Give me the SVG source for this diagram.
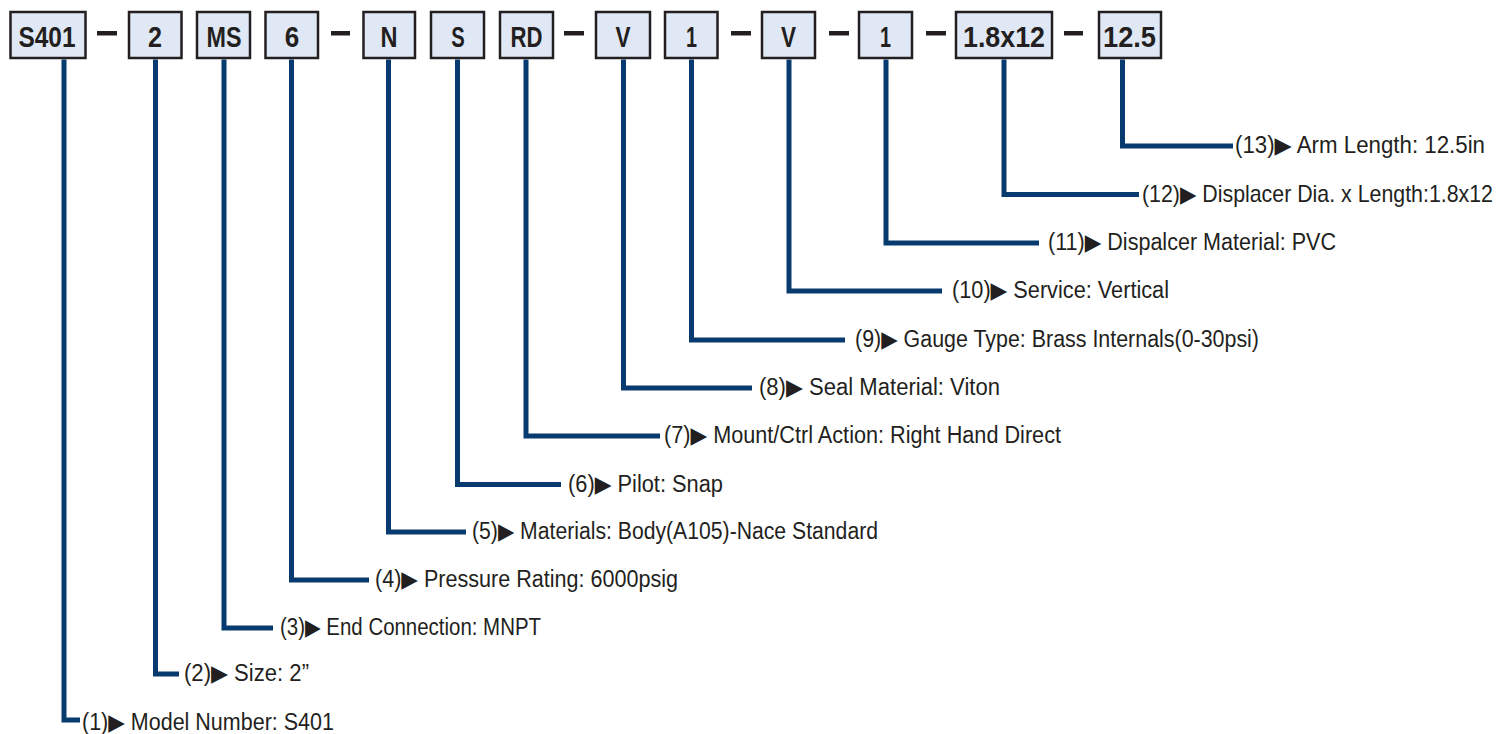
<svg xmlns="http://www.w3.org/2000/svg" width="1503" height="734" viewBox="0 0 1503 734">
<style>
.box{fill:#e1e8f5;stroke:#231f20;stroke-width:2.5}
.code{font-family:"Liberation Sans Narrow","Liberation Sans",Arial,sans-serif;font-weight:bold;font-size:29px;fill:#231f20;text-anchor:middle}
.dash{fill:#231f20}
.conn{fill:none;stroke:#073b6f;stroke-width:5;stroke-linejoin:miter;stroke-linecap:butt}
.lbl{font-family:"Liberation Sans Narrow","Liberation Sans",Arial,"DejaVu Sans",sans-serif;font-size:23px;fill:#231f20}
</style>
<rect width="1503" height="734" fill="#ffffff"/>
<g id="code-boxes">
<g id="seg-s401"><rect class="box" x="10.5" y="12" width="75" height="46"/><text class="code" x="47" y="46.5" textLength="57" lengthAdjust="spacingAndGlyphs">S401</text></g>
<g id="seg-2"><rect class="box" x="129" y="12" width="52.5" height="46"/><text class="code" x="155" y="46.5" textLength="14" lengthAdjust="spacingAndGlyphs">2</text></g>
<g id="seg-ms"><rect class="box" x="197" y="12" width="53" height="46"/><text class="code" x="224" y="46.5" textLength="35" lengthAdjust="spacingAndGlyphs">MS</text></g>
<g id="seg-6"><rect class="box" x="265.5" y="12" width="52.5" height="46"/><text class="code" x="292" y="46.5" textLength="14.5" lengthAdjust="spacingAndGlyphs">6</text></g>
<g id="seg-n"><rect class="box" x="363.5" y="12" width="51.5" height="46"/><text class="code" x="389" y="46.5" textLength="17" lengthAdjust="spacingAndGlyphs">N</text></g>
<g id="seg-s"><rect class="box" x="431" y="12" width="53" height="46"/><text class="code" x="458" y="46.5" textLength="13.5" lengthAdjust="spacingAndGlyphs">S</text></g>
<g id="seg-rd"><rect class="box" x="500" y="12" width="53" height="46"/><text class="code" x="526.5" y="46.5" textLength="32" lengthAdjust="spacingAndGlyphs">RD</text></g>
<g id="seg-v1"><rect class="box" x="596" y="12" width="54" height="46"/><text class="code" x="623" y="46.5" textLength="15" lengthAdjust="spacingAndGlyphs">V</text></g>
<g id="seg-1a"><rect class="box" x="665" y="12" width="52.5" height="46"/><text class="code" x="691.5" y="46.5" textLength="11" lengthAdjust="spacingAndGlyphs">1</text></g>
<g id="seg-v2"><rect class="box" x="762" y="12" width="53" height="46"/><text class="code" x="788.5" y="46.5" textLength="15" lengthAdjust="spacingAndGlyphs">V</text></g>
<g id="seg-1b"><rect class="box" x="859" y="12" width="53" height="46"/><text class="code" x="885.5" y="46.5" textLength="11" lengthAdjust="spacingAndGlyphs">1</text></g>
<g id="seg-18x12"><rect class="box" x="956" y="12" width="96" height="46"/><text class="code" x="1004" y="46.5" textLength="82" lengthAdjust="spacingAndGlyphs">1.8x12</text></g>
<g id="seg-125"><rect class="box" x="1099" y="12" width="62" height="46"/><text class="code" x="1129.5" y="46.5" textLength="53" lengthAdjust="spacingAndGlyphs">12.5</text></g>
</g>
<g id="separators">
<rect class="dash" x="97" y="31" width="20" height="4.5"/>
<rect class="dash" x="331" y="31" width="19" height="4.5"/>
<rect class="dash" x="564" y="31" width="20" height="4.5"/>
<rect class="dash" x="731" y="31" width="20" height="4.5"/>
<rect class="dash" x="829" y="31" width="20" height="4.5"/>
<rect class="dash" x="926" y="31" width="20" height="4.5"/>
<rect class="dash" x="1064" y="31" width="19" height="4.5"/>
</g>
<g id="connectors">
<path class="conn" d="M64 59.5 V720 H80"/>
<path class="conn" d="M155.5 59.5 V674 H179"/>
<path class="conn" d="M224 59.5 V628 H273"/>
<path class="conn" d="M291.5 59.5 V580 H369"/>
<path class="conn" d="M388.5 59.5 V532 H466"/>
<path class="conn" d="M457.5 59.5 V484.5 H561"/>
<path class="conn" d="M526 59.5 V436 H660"/>
<path class="conn" d="M623.5 59.5 V388 H752"/>
<path class="conn" d="M691.5 59.5 V340 H845"/>
<path class="conn" d="M789 59.5 V291 H942"/>
<path class="conn" d="M886 59.5 V243 H1039"/>
<path class="conn" d="M1004 59.5 V194.5 H1139"/>
<path class="conn" d="M1122.5 59.5 V146 H1233"/>
</g>
<g id="label-1"><text class="lbl" x="82" y="730" textLength="252" lengthAdjust="spacingAndGlyphs">(1)▶ Model Number: S401</text></g>
<g id="label-2"><text class="lbl" x="184" y="681" textLength="125" lengthAdjust="spacingAndGlyphs">(2)▶ Size: 2”</text></g>
<g id="label-3"><text class="lbl" x="280" y="635" textLength="261" lengthAdjust="spacingAndGlyphs">(3)▶ End Connection: MNPT</text></g>
<g id="label-4"><text class="lbl" x="375" y="587" textLength="303" lengthAdjust="spacingAndGlyphs">(4)▶ Pressure Rating: 6000psig</text></g>
<g id="label-5"><text class="lbl" x="472" y="539" textLength="406" lengthAdjust="spacingAndGlyphs">(5)▶ Materials: Body(A105)-Nace Standard</text></g>
<g id="label-6"><text class="lbl" x="568" y="491.5" textLength="155" lengthAdjust="spacingAndGlyphs">(6)▶ Pilot: Snap</text></g>
<g id="label-7"><text class="lbl" x="664" y="443" textLength="397" lengthAdjust="spacingAndGlyphs">(7)▶ Mount/Ctrl Action: Right Hand Direct</text></g>
<g id="label-8"><text class="lbl" x="759" y="395" textLength="241" lengthAdjust="spacingAndGlyphs">(8)▶ Seal Material: Viton</text></g>
<g id="label-9"><text class="lbl" x="855" y="347" textLength="404" lengthAdjust="spacingAndGlyphs">(9)▶ Gauge Type: Brass Internals(0-30psi)</text></g>
<g id="label-10"><text class="lbl" x="952" y="298" textLength="217" lengthAdjust="spacingAndGlyphs">(10)▶ Service: Vertical</text></g>
<g id="label-11"><text class="lbl" x="1048" y="250" textLength="288" lengthAdjust="spacingAndGlyphs">(11)▶ Dispalcer Material: PVC</text></g>
<g id="label-12"><text class="lbl" x="0" y="0" transform="translate(1142 201.5) scale(0.9 1)" textLength="390" lengthAdjust="spacingAndGlyphs">(12)▶ Displacer Dia. x Length:1.8x12</text></g>
<g id="label-13"><text class="lbl" x="1235" y="153" textLength="250" lengthAdjust="spacingAndGlyphs">(13)▶ Arm Length: 12.5in</text></g>
</svg>
